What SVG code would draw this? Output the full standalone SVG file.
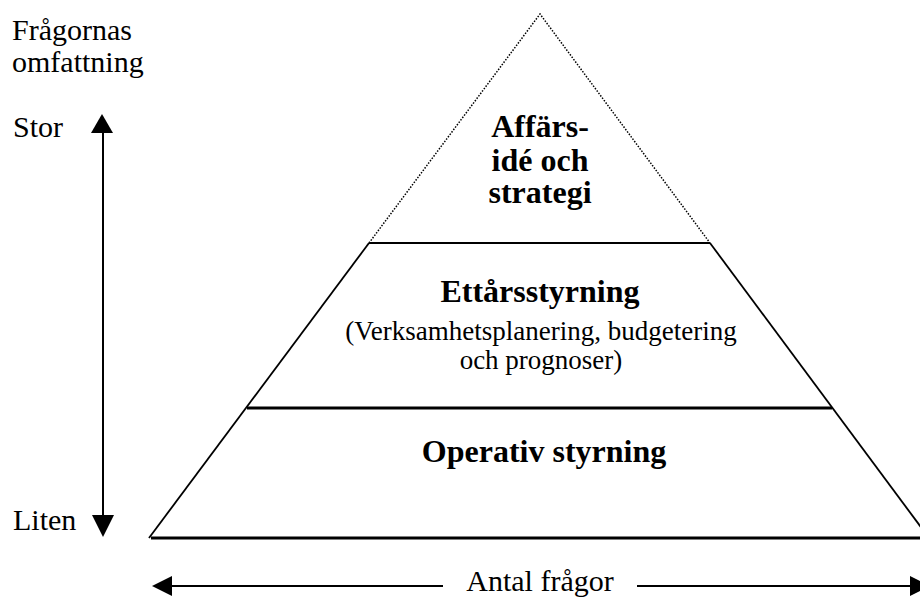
<svg xmlns="http://www.w3.org/2000/svg" width="920" height="597" viewBox="0 0 920 597">
<style>
.t{font-family:"Liberation Serif","Times New Roman",serif;font-size:30px;fill:#000}
.b{font-family:"Liberation Serif","Times New Roman",serif;font-size:32px;font-weight:bold;fill:#000;text-anchor:middle}
.s{font-family:"Liberation Serif","Times New Roman",serif;font-size:27px;fill:#000;text-anchor:middle}
.ln{stroke:#000;fill:none}
</style>
<rect width="920" height="597" fill="#fff"/>
<g id="pyramid">
<path class="ln" d="M369,243 L540,14 L710,243" stroke-width="1.5" stroke-dasharray="1.5,1.5"/>
<path class="ln" d="M369,243 L149,538" stroke-width="1.8"/>
<path class="ln" d="M710,243 L929,538" stroke-width="1.8"/>
<line class="ln" x1="369" y1="243" x2="710" y2="243" stroke-width="2.2"/>
<line class="ln" x1="247" y1="408" x2="832" y2="408" stroke-width="3"/>
<line class="ln" x1="151" y1="538" x2="920" y2="538" stroke-width="3"/>
</g>
<g id="top-level">
<text class="b" x="540" y="137">Affärs-</text>
<text class="b" x="540" y="171">idé och</text>
<text class="b" x="540" y="203">strategi</text>
</g>
<g id="mid-level">
<text class="b" x="540" y="302">Ettårsstyrning</text>
<text class="s" x="541" y="340">(Verksamhetsplanering, budgetering</text>
<text class="s" x="541" y="369">och prognoser)</text>
</g>
<g id="bottom-level">
<text class="b" x="544" y="462">Operativ styrning</text>
</g>
<g id="labels">
<text class="t" x="12" y="40">Frågornas</text>
<text class="t" x="12" y="72">omfattning</text>
<text class="t" x="13" y="137">Stor</text>
<text class="t" x="13" y="530">Liten</text>
<text class="t" x="540" y="591" text-anchor="middle">Antal frågor</text>
</g>
<g id="connectors">
<line class="ln" x1="103" y1="132" x2="103" y2="516" stroke-width="2"/>
<polygon points="102,114 91,133 113,133" fill="#000"/>
<polygon points="103,537 92,515 114,515" fill="#000"/>
<line class="ln" x1="171" y1="586" x2="443" y2="586" stroke-width="2"/>
<line class="ln" x1="637" y1="586" x2="911" y2="586" stroke-width="2"/>
<polygon points="152,586 172,576 172,596" fill="#000"/>
<polygon points="930,586 910,576 910,596" fill="#000"/>
</g>
</svg>
